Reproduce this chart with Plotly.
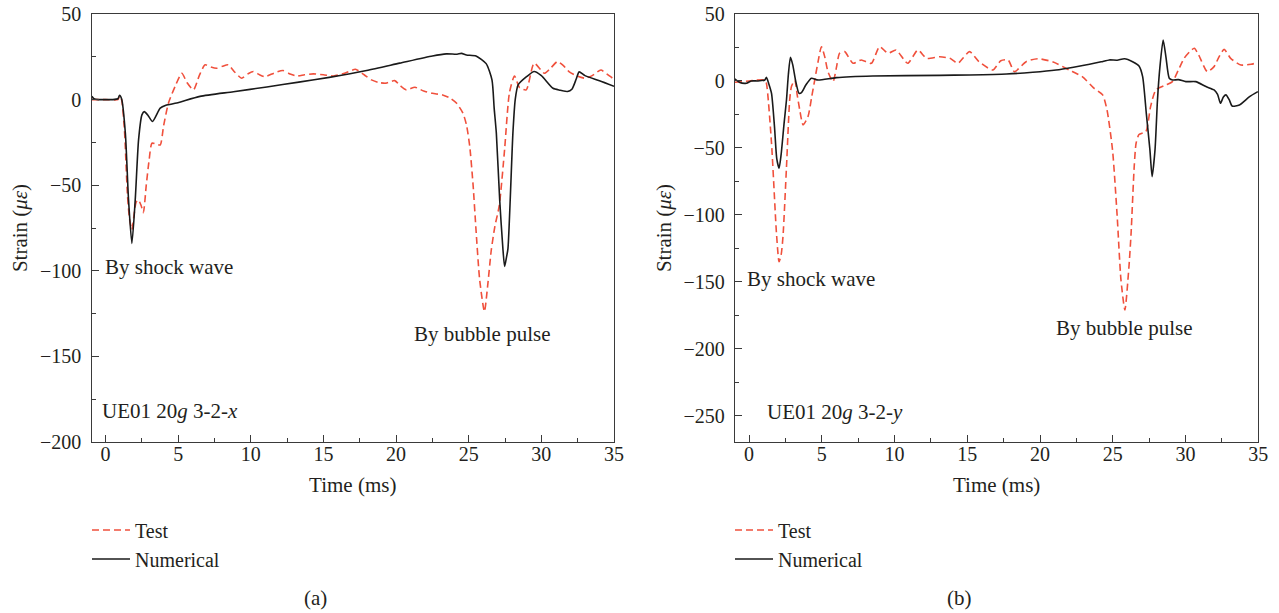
import plotly.graph_objects as go

# ---------------- data ----------------
# Panel (a): UE01 20g 3-2-x
a_num_t = [-0.95, -0.8, -0.5, 0.0, 0.5, 0.85, 0.96, 1.1, 1.36, 1.58, 1.81, 2.04, 2.27, 2.5, 2.66,
           2.9, 3.23, 3.76, 4.15, 4.9, 6.5, 8.8, 11.1, 13.3, 15.4, 17.97, 20.25, 22.5, 23.46,
           24.2, 24.5, 24.84, 25.5, 26.2, 26.6, 26.75, 26.9, 27.13, 27.35, 27.47, 27.6, 27.7,
           28.04, 28.2, 28.4, 29.0, 29.5, 30.0, 30.8, 31.3, 31.8, 32.1, 32.4, 32.6, 33.0,
           34.0, 35.0]
a_num_v = [2.0, 0.5, 0.0, 0.0, 0.0, 0.5, 2.5, 0.5, -19.5, -58.6, -84.0, -58.6, -23.5, -8.9, -7.0,
           -9.0, -12.8, -5.0, -3.3, -2.0, 1.9, 4.6, 7.4, 10.2, 13.0, 17.0, 21.3, 25.5, 26.7,
           26.5, 27.0, 26.1, 25.5, 21.0, 11.5, -5.0, -19.6, -58.5, -87.0, -97.5, -92.0, -87.0,
           -19.6, 0.0, 8.6, 13.5, 16.4, 14.0, 6.6, 5.5, 4.7, 6.0, 12.0, 16.2, 14.0,
           11.0, 7.8]

a_test_t = [-0.95, 0.0, 0.85, 0.96, 1.1, 1.3, 1.5, 1.65, 1.81, 1.95, 2.1, 2.26, 2.45, 2.6, 2.8,
            3.0, 3.19, 3.5, 3.76, 4.0, 4.33, 4.8, 5.25, 5.6, 6.05, 6.45, 6.85, 7.25, 7.65,
            8.05, 8.45, 8.9, 9.37, 9.8, 10.17, 10.6, 10.98, 11.6, 12.2, 12.7, 13.15, 13.7,
            14.3, 15.0, 15.7, 16.5, 17.2, 17.8, 18.3, 18.8, 19.3, 19.9, 20.3, 20.7, 21.3,
            21.9, 22.5, 23.2, 23.7, 24.15, 24.6, 24.85, 25.07, 25.3, 25.5, 25.75, 26.08,
            26.3, 26.55, 26.8, 27.1, 27.47, 27.8, 28.15, 28.5, 28.96, 29.5, 30.2, 30.6, 31.1,
            31.5, 31.9, 32.4, 33.0, 33.5, 34.1, 34.5, 34.9, 35.0]
a_test_v = [0.0, 0.0, 0.0, 2.0, 0.0, -18.0, -55.0, -70.0, -76.0, -68.0, -60.0, -58.6, -62.0, -66.0,
            -50.0, -35.0, -25.5, -26.0, -26.5, -15.0, -2.0, 8.0, 15.4, 10.0, 5.7, 14.0, 20.3,
            19.0, 18.3, 19.5, 20.3, 16.0, 12.5, 15.0, 16.4, 14.5, 13.4, 15.5, 17.0, 15.0, 13.8,
            14.5, 15.0, 14.5, 13.8, 15.5, 17.7, 14.5, 11.5, 10.0, 9.6, 11.1, 8.0, 5.7, 7.2,
            5.0, 3.7, 2.7, 1.0, -2.0, -7.9, -15.0, -27.4, -50.0, -76.0, -105.0, -123.8,
            -109.0, -88.0, -74.0, -62.0, -29.0, 3.9, 13.8, 7.0, 5.7, 21.3, 15.4, 18.0, 22.2,
            20.0, 16.4, 14.0, 12.5, 14.0, 17.3, 15.0, 12.5, 12.0]

# Panel (b): UE01 20g 3-2-y
b_num_t = [-0.98, -0.64, -0.18, 0.16, 0.6, 1.08, 1.19, 1.35, 1.54, 1.75, 1.9, 2.06, 2.2, 2.4,
           2.57, 2.7, 2.84, 3.0, 3.2, 3.43, 3.6, 3.9, 4.28, 4.74, 6.0, 8.5, 13.1, 15.15, 17.7,
           19.5, 21.1, 22.3, 23.4, 24.2, 24.76, 25.3, 25.8, 26.36, 26.8, 27.05, 27.3, 27.55,
           27.7, 27.9, 28.07, 28.24, 28.46, 28.65, 28.88, 29.1, 29.5, 30.02, 30.7, 31.4,
           31.96, 32.2, 32.4, 32.6, 32.77, 33.0, 33.2, 33.7, 34.4, 34.97]
b_num_v = [1.5, -1.2, -1.7, 0.0, 0.0, 0.7, 2.7, -2.0, -9.2, -35.0, -58.0, -65.2, -55.0, -32.0,
           -14.0, 5.0, 17.7, 12.0, 0.0, -9.2, -8.7, -3.0, 2.0, 0.7, 2.5, 3.7, 4.2, 4.5, 5.2,
           6.5, 8.2, 10.3, 12.5, 14.3, 15.7, 15.5, 16.6, 14.4, 11.2, 3.2, -24.0, -51.5,
           -71.4, -51.5, -14.2, 10.7, 30.6, 18.0, 2.0, 0.7, 1.0, -0.5, -0.5, -4.2,
           -6.7, -10.0, -16.7, -12.0, -10.4, -14.0, -18.7, -17.9, -11.7, -8.0]

b_test_t = [-0.98, 0.0, 1.08, 1.19, 1.54, 1.88, 2.06, 2.2, 2.33, 2.57, 2.79, 2.91, 3.14, 3.3,
            3.48, 3.71, 4.05, 4.3, 4.51, 4.75, 4.97, 5.2, 5.42, 5.77, 6.0, 6.22, 6.57, 7.14,
            7.71, 8.4, 8.97, 9.54, 10.1, 10.9, 11.6, 12.2, 13.1, 13.8, 14.35, 15.15, 15.8,
            16.75, 17.3, 17.8, 18.24, 19.04, 19.84, 20.9, 22.0, 22.9, 23.7, 24.3, 24.6,
            24.98, 25.3, 25.56, 25.83, 26.1, 26.25, 26.47, 26.6, 26.8, 27.27, 27.6, 27.96,
            28.65, 29.1, 29.5, 29.9, 30.3, 30.6, 30.9, 31.5, 31.96, 32.3, 32.65, 33.1, 33.8,
            34.5, 34.97]
b_test_v = [-1.0, 0.0, 0.7, -1.7, -46.5, -113.7, -135.0, -130.0, -116.0, -64.0, -14.0, -4.2,
            0.7, -10.0, -21.6, -32.8, -26.6, -12.0, 0.7, 15.0, 25.6, 18.0, 6.9, -0.5, 10.0,
            20.7, 21.9, 13.2, 15.7, 13.2, 25.6, 20.7, 23.1, 13.2, 23.1, 16.9, 18.1, 16.9,
            13.2, 21.9, 14.4, 8.2, 15.1, 15.7, 6.9, 14.4, 16.6, 14.2, 8.2, 3.2, -5.4, -10.4,
            -21.6, -51.5, -101.0, -148.5, -171.0, -140.0, -115.0, -64.0, -46.5, -40.0, -37.8,
            -19.0, -6.7, -3.0, -0.5, 8.0, 16.9, 22.0, 24.4, 19.4, 6.9, 10.7, 18.0, 23.6, 16.9,
            11.9, 12.5, 13.7]

series_names = ["Test", "Numerical"]
panel_labels = ["(a)", "(b)"]
shock_label = "By shock wave"
bubble_label = "By bubble pulse"
case_labels = ["UE01 20<i>g</i> 3-2-<i>x</i>", "UE01 20<i>g</i> 3-2-<i>y</i>"]
x_title = "Time (ms)"
y_title = "Strain (<i>με</i>)"

# ---------------- style ----------------
W, H = 1279, 613
FONT = "Liberation Serif"
TXT = "#231f20"
RED = "#f0503c"
BLK = "#1a1a1a"
AX = "#3a3a3a"
DASH = "7px,4px"

def px(x):
    return x / W

def py(y):
    return 1 - y / H

fig = go.Figure()

panels = [
    dict(xa="x", ya="y", lg="legend", num_t=a_num_t, num_v=a_num_v, test_t=a_test_t, test_v=a_test_v),
    dict(xa="x2", ya="y2", lg="legend2", num_t=b_num_t, num_v=b_num_v, test_t=b_test_t, test_v=b_test_v),
]
for p in panels:
    fig.add_trace(go.Scatter(x=p["test_t"], y=p["test_v"], mode="lines", name=series_names[0],
                             line=dict(color=RED, width=1.6, dash=DASH, shape="spline", smoothing=0.6),
                             xaxis=p["xa"], yaxis=p["ya"], legend=p["lg"]))
    fig.add_trace(go.Scatter(x=p["num_t"], y=p["num_v"], mode="lines", name=series_names[1],
                             line=dict(color=BLK, width=1.6, shape="spline", smoothing=0.6),
                             xaxis=p["xa"], yaxis=p["ya"], legend=p["lg"]))

def xaxis(domain, anchor):
    return dict(domain=domain, anchor=anchor, range=[-0.97, 35], tickmode="linear", tick0=0, dtick=5,
                ticks="inside", ticklen=7, tickwidth=1.3, tickcolor=AX, automargin=False,
                ticklabeloverflow="allow",
                minor=dict(ticks="inside", ticklen=4, tickwidth=1.1, tickcolor=AX, dtick=2.5, tick0=0),
                showline=True, linecolor=AX, linewidth=1.4, mirror=True, showgrid=False, zeroline=False,
                tickfont=dict(family=FONT, size=20, color=TXT), ticklabelstandoff=-6,
                title=dict(text=x_title, font=dict(family=FONT, size=21, color=TXT), standoff=13))

def yaxis(domain, anchor, rng):
    return dict(domain=domain, anchor=anchor, range=rng, tickmode="linear", tick0=0, dtick=50,
                ticks="inside", ticklen=7, tickwidth=1.3, tickcolor=AX, automargin=False,
                ticklabeloverflow="allow",
                minor=dict(ticks="inside", ticklen=4, tickwidth=1.1, tickcolor=AX, dtick=25, tick0=0),
                showline=True, linecolor=AX, linewidth=1.4, mirror=True, showgrid=False, zeroline=False,
                tickfont=dict(family=FONT, size=20, color=TXT), ticklabelstandoff=5,
                title=dict(text=y_title, font=dict(family=FONT, size=21, color=TXT), standoff=6))

ydom = [py(442), py(14)]
xd1 = [px(91.5), px(614)]
xd2 = [px(735), px(1258.3)]

ann = []
def note(text, x, y, xref, yref, xanchor="center"):
    ann.append(dict(text=text, x=x, y=y, xref=xref, yref=yref, showarrow=False, xanchor=xanchor,
                    yanchor="middle", font=dict(family=FONT, size=21, color=TXT)))

note(shock_label, 4.38, -97.5, "x", "y")
note(bubble_label, 25.96, -137, "x", "y")
note(case_labels[0], 4.45, -182, "x", "y")
note(shock_label, 4.23, -148, "x2", "y2")
note(bubble_label, 25.8, -184.6, "x2", "y2")
note(case_labels[1], 5.9, -247.5, "x2", "y2")
note(panel_labels[0], px(315.5), py(598), "paper", "paper")
note(panel_labels[1], px(959), py(598), "paper", "paper")

leg = dict(font=dict(family=FONT, size=20, color=TXT), bgcolor="rgba(0,0,0,0)", borderwidth=0,
           itemwidth=38, yanchor="top", xanchor="left", tracegroupgap=0)

fig.update_layout(
    width=W, height=H, margin=dict(l=0, r=0, t=0, b=0, autoexpand=False),
    paper_bgcolor="white", plot_bgcolor="white",
    xaxis=xaxis(xd1, "y"), yaxis=yaxis(ydom, "x", [-200, 50]),
    xaxis2=xaxis(xd2, "y2"), yaxis2=yaxis(ydom, "x2", [-269.6, 50]),
    legend=dict(leg, x=px(87), y=py(510.5)),
    legend2=dict(leg, x=px(730), y=py(510.5)),
    annotations=ann,
    showlegend=True,
)

# remove the browser's default 8px body margin so the figure fills the window exactly
fig.write_html("out.html", config={"displayModeBar": False},
               post_script="document.body.style.margin='0';")
